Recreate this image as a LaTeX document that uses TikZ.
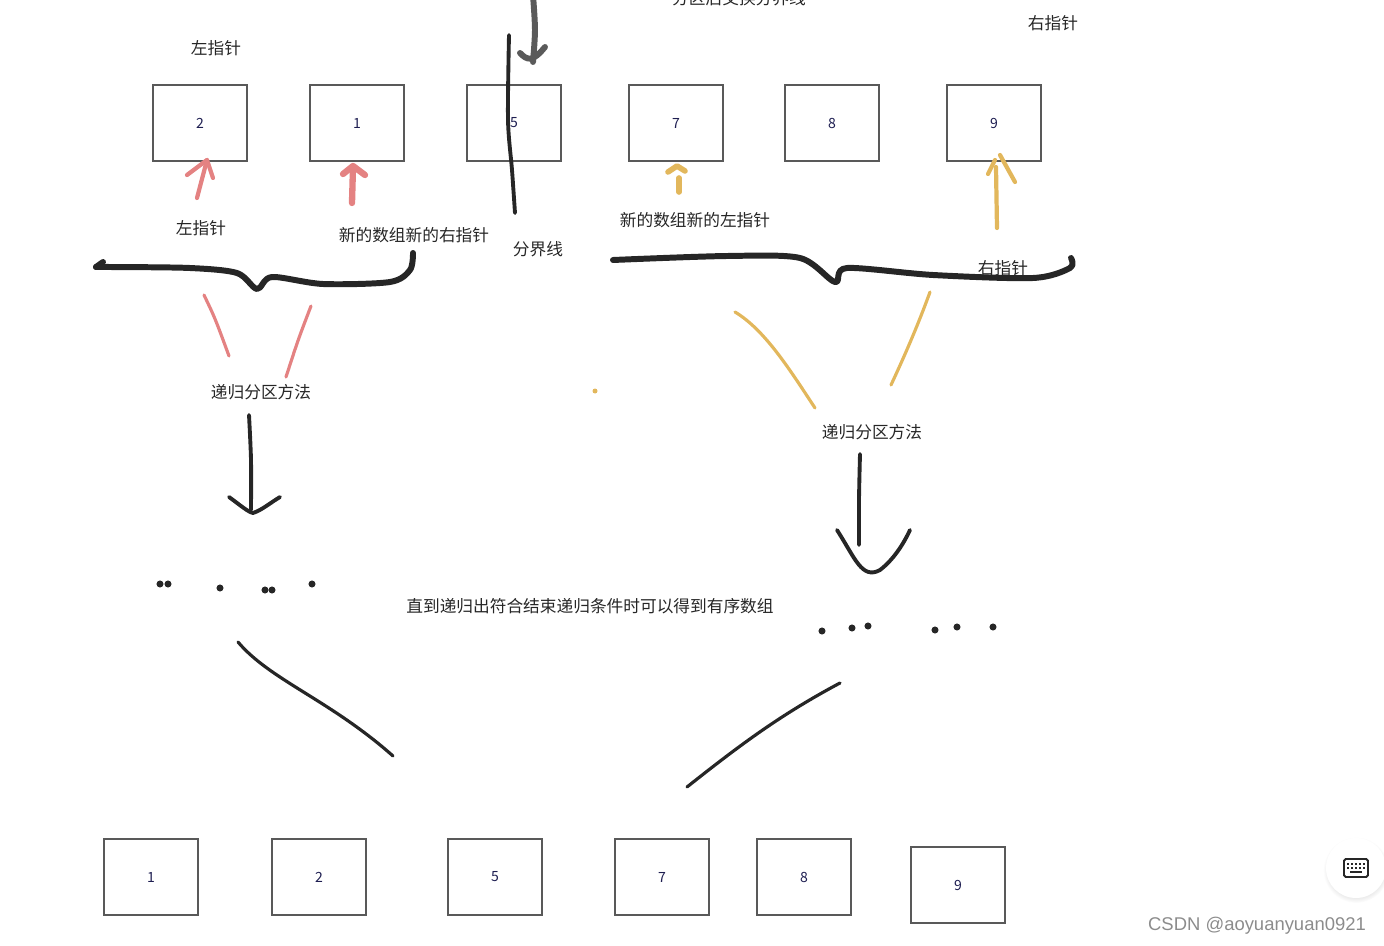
\documentclass[tikz,border=0pt]{standalone}
\usepackage{fontspec}
\setmainfont{Noto Sans CJK SC}
\newfontfamily\wmfont{Liberation Sans}
\usetikzlibrary{positioning, shadows}
\definecolor{boxgray}{HTML}{595959}
\definecolor{pinkred}{HTML}{E48282}
\definecolor{mustard}{HTML}{E2B75C}
\definecolor{ink}{HTML}{262626}
\definecolor{penc}{HTML}{5A5A5A}
\tikzset{
  cell/.style={draw=boxgray, line width=1.2pt, minimum width=1.88cm, minimum height=1.52cm,
    inner sep=0pt, font=\fontsize{8}{9}\selectfont, text=ink!80!blue},
  note/.style={font=\fontsize{9.5}{11}\selectfont, text=ink, inner sep=0pt},
  stroke/.style={line cap=round, line join=round},
  thick ink/.style={stroke, draw=ink, line width=3.4pt},
  thin ink/.style={stroke, draw=ink, line width=1.8pt},
  dotty/.style={fill=ink, circle, inner sep=0pt, minimum size=4pt}
}

\begin{document}
\begin{tikzpicture}[x=0.02cm, y=-0.02cm]
\useasboundingbox (0,0) rectangle (1384,946);

% upper row
\node[cell] (a2) at (200,123) {2};
\node[cell] (a1) at (357,123) {1};
\node[cell] (a5) at (514,123) {5};
\node[cell] (a7) at (676,123) {7};
\node[cell] (a8) at (832,123) {8};
\node[cell] (a9) at (994,123) {9};

% lower row
\node[cell] (b1) at (151,877) {1};
\node[cell] (b2) at (319,877) {2};
\node[cell] (b5) at (495,877) {5};
\node[cell] (b7) at (662,877) {7};
\node[cell] (b8) at (804,877) {8};
\node[cell] (b9) at (958,885) {9};

% labels
\node[note] (topleft) at (216,48) {左指针};
\node[note] (topright) at (1053,23) {右指针};
\node[note] (swap) at (739,-2) {分区后交换分界线};
\node[note] (lptr) at (201,228) {左指针};
\node[note] (newr) at (414,235) {新的数组新的右指针};
\node[note] (split) at (538,249) {分界线};
\node[note] (newl) at (695,220) {新的数组新的左指针};
\node[note] (rptr) at (1003,268) {右指针};
\node[note] (recl) at (261,392) {递归分区方法};
\node[note] (recr) at (872,432) {递归分区方法};
\node[note] (done) at (590,606) {直到递归出符合结束递归条件时可以得到有序数组};
\node[font=\wmfont\fontsize{10.5}{12}\selectfont, text=black!45, inner sep=0pt] (mark) at (1257,926) {CSDN @aoyuanyuan0921};

% split line and swap arrow
\draw[thin ink, line width=2.2pt] plot[smooth] coordinates {(509,35) (508,120) (512,170) (515,213)};
\draw[stroke, draw=penc, line width=3.4pt] plot[smooth] coordinates {(533,-5) (535,30) (533,62)};
\draw[stroke, draw=penc, line width=3.4pt] (520,53) .. controls (527,60) and (532,63) .. (545,47);

% pointer arrows, left part
\draw[stroke, draw=pinkred, line width=2.4pt] (197,198) -- (207,160);
\draw[stroke, draw=pinkred, line width=2.4pt] (187,175) -- (207,160) -- (213,178);
\draw[stroke, draw=pinkred, line width=3.6pt] (352,203) -- (353,167);
\draw[stroke, draw=pinkred, line width=3.6pt] (343,174) -- (353,166) -- (365,175);

% pointer arrows, right part
\draw[stroke, draw=mustard, line width=3.2pt] (679,192) -- (679,178);
\draw[stroke, draw=mustard, line width=3.2pt] (668,172) -- (677,166) -- (685,171);
\draw[stroke, draw=mustard, line width=2.4pt] (997,228) -- (996,167);
\draw[stroke, draw=mustard, line width=2.4pt] (988,174) -- (995,160);
\draw[stroke, draw=mustard, line width=2.4pt] (1000,155) -- (1015,182);

% braces
\draw[thick ink] plot[smooth, tension=0.5] coordinates {(96,267) (110,267) (190,268) (237,273) (257,289) (272,277) (323,284) (390,282) (410,270) (413,253)};
\draw[thick ink] (96,267) -- (103,262);
\draw[thick ink] plot[smooth, tension=0.5] coordinates {(613,260) (727,256) (800,258) (835,282) (847,268) (933,275) (1033,278) (1070,268) (1071,258)};

% split branches
\draw[stroke, draw=pinkred, line width=1.8pt] (204,295) .. controls (215,318) .. (229,356);
\draw[stroke, draw=pinkred, line width=1.8pt] (311,306) .. controls (298,340) .. (286,377);
\draw[stroke, draw=mustard, line width=1.8pt] (735,312) .. controls (765,330) and (790,370) .. (815,408);
\draw[stroke, draw=mustard, line width=1.8pt] (930,292) .. controls (918,325) and (905,355) .. (891,385);
\fill[mustard] (595,391) circle (2.5);

% recursion arrows
\draw[thin ink, line width=2.2pt] plot[smooth] coordinates {(249,415) (251,460) (251,510)};
\draw[thin ink, line width=2.2pt] (229,497) .. controls (240,505) and (248,512) .. (253,513) .. controls (262,510) and (270,503) .. (280,497);
\draw[thin ink, line width=2.2pt] plot[smooth] coordinates {(860,454) (859,500) (859,545)};
\draw[thin ink, line width=2.2pt] (837,530) .. controls (855,558) and (862,580) .. (880,570) .. controls (893,560) and (903,545) .. (910,530);

% dots
\foreach \px/\py in {160/584, 168/584, 220/588, 265/590, 272/590, 312/584,
                     822/631, 852/628, 868/626, 935/630, 957/627, 993/627}
  \node[dotty] at (\px,\py) {};

% merge lines
\draw[thin ink] (238,642) .. controls (270,680) and (330,700) .. (393,756);
\draw[thin ink] (840,683) .. controls (780,715) and (740,745) .. (687,787);

% keyboard button
\node[circle, fill=white, minimum size=1.2cm, circular drop shadow={shadow xshift=0pt, shadow yshift=-1pt, opacity=0.15}] (kbd) at (1356,868) {};
\draw[line width=1.1pt, draw=ink, rounded corners=1pt] (1344,859) rectangle (1368,877);
\foreach \kx in {1348,1352,...,1364} {
  \fill[ink] (\kx-1,863) rectangle (\kx+1,865);
  \fill[ink] (\kx-1,867) rectangle (\kx+1,869);
}
\fill[ink] (1350,871) rectangle (1362,873);
\end{tikzpicture}
\end{document}
